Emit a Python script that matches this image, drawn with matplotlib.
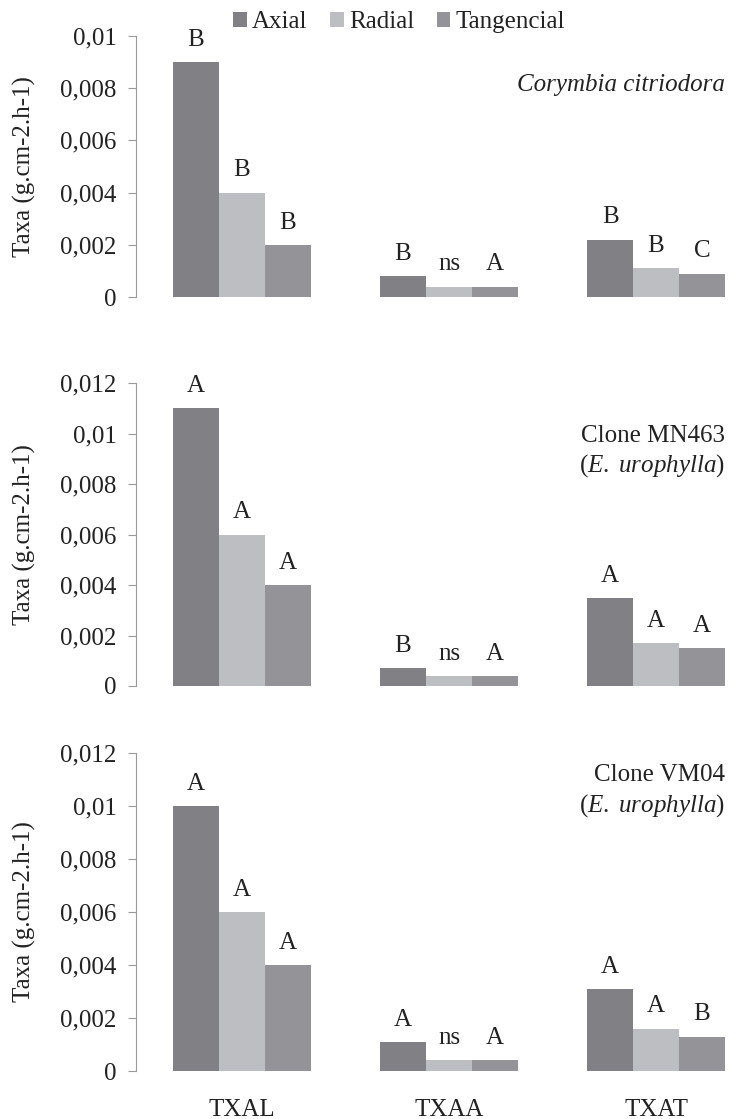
import numpy as np
import matplotlib
matplotlib.use('Agg')
import matplotlib.pyplot as plt
from matplotlib.ticker import FuncFormatter, MultipleLocator

plt.rcParams['font.family'] = 'Liberation Serif'
plt.rcParams['mathtext.fontset'] = 'custom'
plt.rcParams['mathtext.rm'] = 'Liberation Serif'
plt.rcParams['mathtext.it'] = 'Liberation Serif:italic'

categories = ['TXAL', 'TXAA', 'TXAT']
series = ['Axial', 'Radial', 'Tangencial']
colors = ['#808085', '#bdbec2', '#949498']

# Corymbia citriodora
corymbia = {
    'Axial': [0.009, 0.0008, 0.0022],
    'Radial': [0.004, 0.0004, 0.0011],
    'Tangencial': [0.002, 0.0004, 0.0009],
}
corymbia_letters = {
    'Axial': ['B', 'B', 'B'],
    'Radial': ['B', 'ns', 'B'],
    'Tangencial': ['B', 'A', 'C'],
}

# Clone MN463
mn463 = {
    'Axial': [0.011, 0.0007, 0.0035],
    'Radial': [0.006, 0.0004, 0.0017],
    'Tangencial': [0.004, 0.0004, 0.0015],
}
mn463_letters = {
    'Axial': ['A', 'B', 'A'],
    'Radial': ['A', 'ns', 'A'],
    'Tangencial': ['A', 'A', 'A'],
}

# Clone VM04
vm04 = {
    'Axial': [0.010, 0.0011, 0.0031],
    'Radial': [0.006, 0.0004, 0.0016],
    'Tangencial': [0.004, 0.0004, 0.0013],
}
vm04_letters = {
    'Axial': ['A', 'A', 'A'],
    'Radial': ['A', 'ns', 'A'],
    'Tangencial': ['A', 'A', 'B'],
}

W, H = 742, 1119
FS = 18
TC = '#222222'
fig = plt.figure(figsize=(W / 100, H / 100), dpi=100)


def panel(top, bottom, data, letters, ymax, show_x=False):
    ax = fig.add_axes([136 / W, 1 - bottom / H, 1 - 136 / W, (bottom - top) / H])
    x = np.arange(len(categories))
    width = 0.222
    for i, s in enumerate(series):
        pos = x + (i - 1) * width
        bars = ax.bar(pos, data[s], width, color=colors[i], label=s)
        for b, lab in zip(bars, letters[s]):
            ax.annotate(lab, (b.get_x() + b.get_width() / 2, b.get_height()),
                        xytext=(0, 8), textcoords='offset points',
                        ha='center', va='bottom', fontsize=FS, color=TC)
    ax.set_xlim(-0.512, 2.415)
    ax.set_ylim(0, ymax)
    ax.yaxis.set_major_locator(MultipleLocator(0.002))
    ax.yaxis.set_major_formatter(FuncFormatter(lambda v, p: f'{v:g}'.replace('.', ',')))
    for sp in ['top', 'right', 'bottom']:
        ax.spines[sp].set_visible(False)
    ax.spines['left'].set_color('#9a9a9a')
    ax.tick_params(axis='y', direction='out', length=6, color='#9a9a9a',
                   labelsize=FS, pad=8, labelcolor=TC)
    ax.set_ylabel('Taxa (g.cm-2.h-1)', fontsize=FS, color=TC)
    ax.yaxis.set_label_coords(-0.165, 0.5)
    ax.set_xticks(x)
    if show_x:
        ax.set_xticklabels(categories)
        ax.tick_params(axis='x', length=0, labelsize=FS, pad=20, labelcolor=TC)
    else:
        ax.tick_params(axis='x', length=0, labelbottom=False)
    return ax


ax1 = panel(36, 297, corymbia, corymbia_letters, 0.01)
ax2 = panel(383, 686, mn463, mn463_letters, 0.012)
ax3 = panel(753, 1071, vm04, vm04_letters, 0.012, show_x=True)

tx = 725 / W
fig.text(tx, 1 - 85 / H, 'Corymbia citriodora', ha='right', va='center',
         fontsize=FS, style='italic', color=TC)
fig.text(tx, 1 - 436 / H, 'Clone MN463', ha='right', va='center', fontsize=FS, color=TC)
fig.text(tx, 1 - 466 / H, r'($\mathit{E.\ urophylla}$)', ha='right', va='center',
         fontsize=FS, color=TC)
fig.text(tx, 1 - 775 / H, 'Clone VM04', ha='right', va='center', fontsize=FS, color=TC)
fig.text(tx, 1 - 806 / H, r'($\mathit{E.\ urophylla}$)', ha='right', va='center',
         fontsize=FS, color=TC)

handles, labels = ax1.get_legend_handles_labels()
fig.legend(handles, labels, loc='center', bbox_to_anchor=(399 / W, 1 - 22 / H),
           ncol=3, frameon=False, fontsize=FS, handlelength=0.55, handleheight=0.55,
           handletextpad=0.2, columnspacing=0.9, labelcolor=TC)

fig.savefig('out.png', dpi=100)
